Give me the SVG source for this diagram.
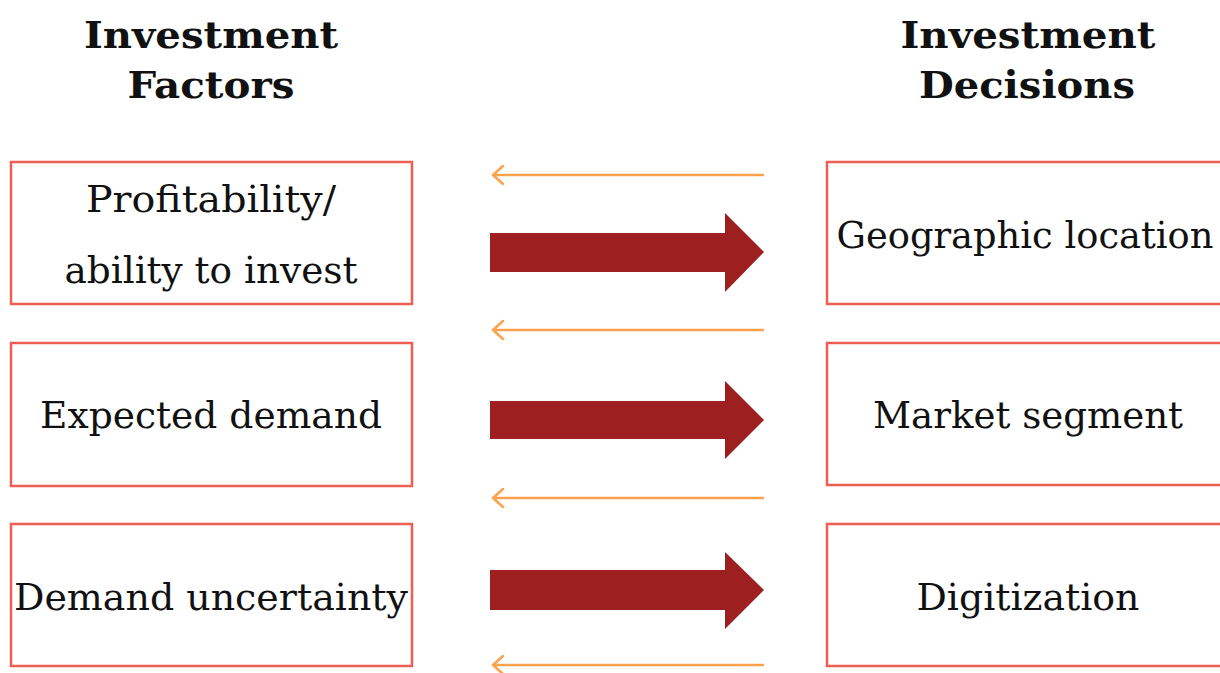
<svg xmlns="http://www.w3.org/2000/svg" width="1220" height="673" viewBox="0 0 1220 673">
<style>
.box{fill:#fff;stroke:#EE5E52;stroke-width:2.5}
.hd{font-family:"DejaVu Serif","Liberation Serif",serif;font-weight:bold;font-size:38px;fill:#111;text-anchor:middle}
.lb{font-family:"DejaVu Serif","Liberation Serif",serif;font-size:37px;fill:#111;text-anchor:middle}
.big{fill:#9E1F20}
.thin{stroke:#FFA24F;stroke-width:2.5;fill:none;stroke-linecap:round;stroke-linejoin:round}
</style>
<rect width="1220" height="673" fill="#fff"/>
<g id="heading-factors">
<text class="hd" x="211" y="48" textLength="254" lengthAdjust="spacingAndGlyphs">Investment</text>
<text class="hd" x="211" y="98" textLength="167" lengthAdjust="spacingAndGlyphs">Factors</text>
</g>
<g id="heading-decisions">
<text class="hd" x="1028" y="48" textLength="255" lengthAdjust="spacingAndGlyphs">Investment</text>
<text class="hd" x="1027" y="98" textLength="216" lengthAdjust="spacingAndGlyphs">Decisions</text>
</g>
<g id="f1">
<rect class="box" x="11" y="162" width="401" height="142"/>
<text class="lb" x="211" y="212" textLength="250" lengthAdjust="spacingAndGlyphs">Profitability/</text>
<text class="lb" x="211" y="283" textLength="293" lengthAdjust="spacingAndGlyphs">ability to invest</text>
</g>
<g id="f2">
<rect class="box" x="11" y="343" width="401" height="143"/>
<text class="lb" x="211" y="428" textLength="342" lengthAdjust="spacingAndGlyphs">Expected demand</text>
</g>
<g id="f3">
<rect class="box" x="11" y="524" width="401" height="142"/>
<text class="lb" x="211" y="610" textLength="394" lengthAdjust="spacingAndGlyphs">Demand uncertainty</text>
</g>
<g id="d1">
<rect class="box" x="827" y="162" width="402" height="142"/>
<text class="lb" x="1025" y="248" textLength="377" lengthAdjust="spacingAndGlyphs">Geographic location</text>
</g>
<g id="d2">
<rect class="box" x="827" y="343" width="402" height="142"/>
<text class="lb" x="1028" y="428" textLength="310" lengthAdjust="spacingAndGlyphs">Market segment</text>
</g>
<g id="d3">
<rect class="box" x="827" y="524" width="402" height="142"/>
<text class="lb" x="1028" y="610" textLength="223" lengthAdjust="spacingAndGlyphs">Digitization</text>
</g>
<g id="connectors">
<path class="big" d="M490 233 H725 V213 L764 252 L725 292 V272 H490 Z"/>
<path class="big" d="M490 401 H725 V381 L764 420 L725 459 V439 H490 Z"/>
<path class="big" d="M490 570 H725 V552 L764 590 L725 629 V610 H490 Z"/>
<path class="thin" d="M763 175 H493 M503 166 L493 175 L503 184"/>
<path class="thin" d="M763 330 H493 M503 321 L493 330 L503 339"/>
<path class="thin" d="M763 498 H493 M503 489 L493 498 L503 507"/>
<path class="thin" d="M763 665 H493 M503 656 L493 665 L503 674"/>
</g>
</svg>
